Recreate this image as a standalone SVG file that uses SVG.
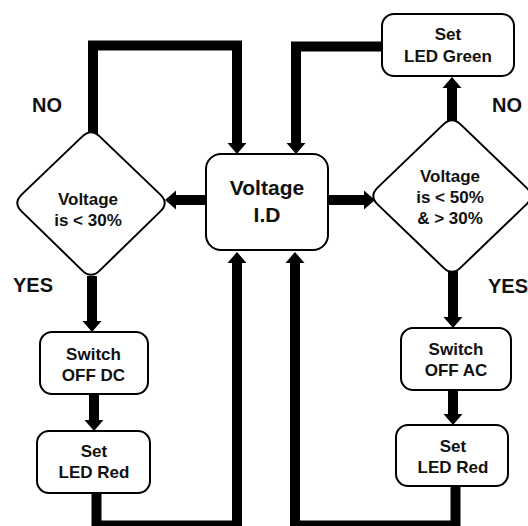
<svg xmlns="http://www.w3.org/2000/svg" width="528" height="526" viewBox="0 0 528 526">
<style>
.box{fill:#fff;stroke:#000;stroke-width:2}
.t{font-family:"Liberation Sans",Arial,sans-serif;font-weight:bold;fill:#111;text-anchor:middle}
.s16{font-size:17px}
.s17{font-size:17px}
.s21{font-size:21px}
.lbl{font-family:"Liberation Sans",Arial,sans-serif;font-weight:bold;font-size:20px;fill:#111}
.c{fill:none;stroke:#000;stroke-width:10;stroke-linejoin:miter;stroke-linecap:butt}
</style>
<defs>
<marker id="ah" markerUnits="userSpaceOnUse" viewBox="0 -10 12 20" refX="0" refY="0" markerWidth="12" markerHeight="20" orient="auto">
<path d="M0,-9.5 L11,0 L0,9.5 Z" fill="#000"/>
</marker>
</defs>
<rect width="528" height="526" fill="#fff"/>
<g id="connectors">
<polyline class="c" points="93,134 93,45.5 237,45.5 237,143" marker-end="url(#ah)"/>
<polyline class="c" points="382,46.5 296,46.5 296,143" marker-end="url(#ah)"/>
<line class="c" x1="206" y1="200" x2="176" y2="200" marker-end="url(#ah)"/>
<line class="c" x1="328" y1="200" x2="364" y2="200" marker-end="url(#ah)"/>
<line class="c" x1="452" y1="121" x2="452" y2="88" marker-end="url(#ah)"/>
<line class="c" x1="92" y1="276" x2="92" y2="321" marker-end="url(#ah)"/>
<line class="c" x1="94" y1="394" x2="94" y2="420" marker-end="url(#ah)"/>
<polyline class="c" points="96.5,493 96.5,525.5 237,525.5 237,263" marker-end="url(#ah)"/>
<line class="c" x1="453" y1="271" x2="453" y2="317" marker-end="url(#ah)"/>
<line class="c" x1="453" y1="390" x2="453" y2="414" marker-end="url(#ah)"/>
<polyline class="c" points="455.5,486 455.5,525.5 295,525.5 295,263" marker-end="url(#ah)"/>
</g>
<g id="voltage-id">
<rect class="box" x="206" y="154" width="122" height="96" rx="15"/>
<text class="t s21" x="267" y="195">Voltage</text>
<text class="t s21" x="267" y="222">I.D</text>
</g>
<g id="dec-30">
<path class="box" d="M82.4,136.4 Q91,128 99.6,136.4 L160.4,194.6 Q169,203 160.4,211.4 L99.6,270.6 Q91,279 82.4,270.6 L21.6,211.4 Q13,203 21.6,194.6 Z"/>
<text class="t s17" x="88" y="205">Voltage</text>
<text class="t s17" x="88" y="226">is &lt; 30%</text>
</g>
<g id="dec-50">
<path class="box" d="M443.4,124.4 Q452,116 460.6,124.4 L526.4,187.6 Q535,196 526.4,204.4 L460.6,267.6 Q452,276 443.4,267.6 L377.6,204.4 Q369,196 377.6,187.6 Z"/>
<text class="t s17" x="450" y="182">Voltage</text>
<text class="t s17" x="450" y="203">is &lt; 50%</text>
<text class="t s17" x="450" y="224">&amp; &gt; 30%</text>
</g>
<g id="led-green">
<rect class="box" x="382" y="14" width="132" height="62" rx="12"/>
<text class="t s16" x="448" y="40">Set</text>
<text class="t s16" x="448" y="62">LED Green</text>
</g>
<g id="switch-dc">
<rect class="box" x="40" y="332" width="108" height="62" rx="12"/>
<text class="t s16" x="93.5" y="360">Switch</text>
<text class="t s16" x="93.5" y="381">OFF DC</text>
</g>
<g id="led-red-left">
<rect class="box" x="37" y="431" width="113" height="62" rx="12"/>
<text class="t s16" x="94" y="457">Set</text>
<text class="t s16" x="94" y="478">LED Red</text>
</g>
<g id="switch-ac">
<rect class="box" x="401" y="328" width="110" height="62" rx="12"/>
<text class="t s16" x="456" y="355">Switch</text>
<text class="t s16" x="456" y="376">OFF AC</text>
</g>
<g id="led-red-right">
<rect class="box" x="396" y="425" width="112" height="61" rx="12"/>
<text class="t s16" x="453" y="452">Set</text>
<text class="t s16" x="453" y="473">LED Red</text>
</g>
<g id="labels">
<text class="lbl" x="32" y="112">NO</text>
<text class="lbl" x="13" y="292">YES</text>
<text class="lbl" x="492" y="112">NO</text>
<text class="lbl" x="488" y="293">YES</text>
</g>
</svg>
